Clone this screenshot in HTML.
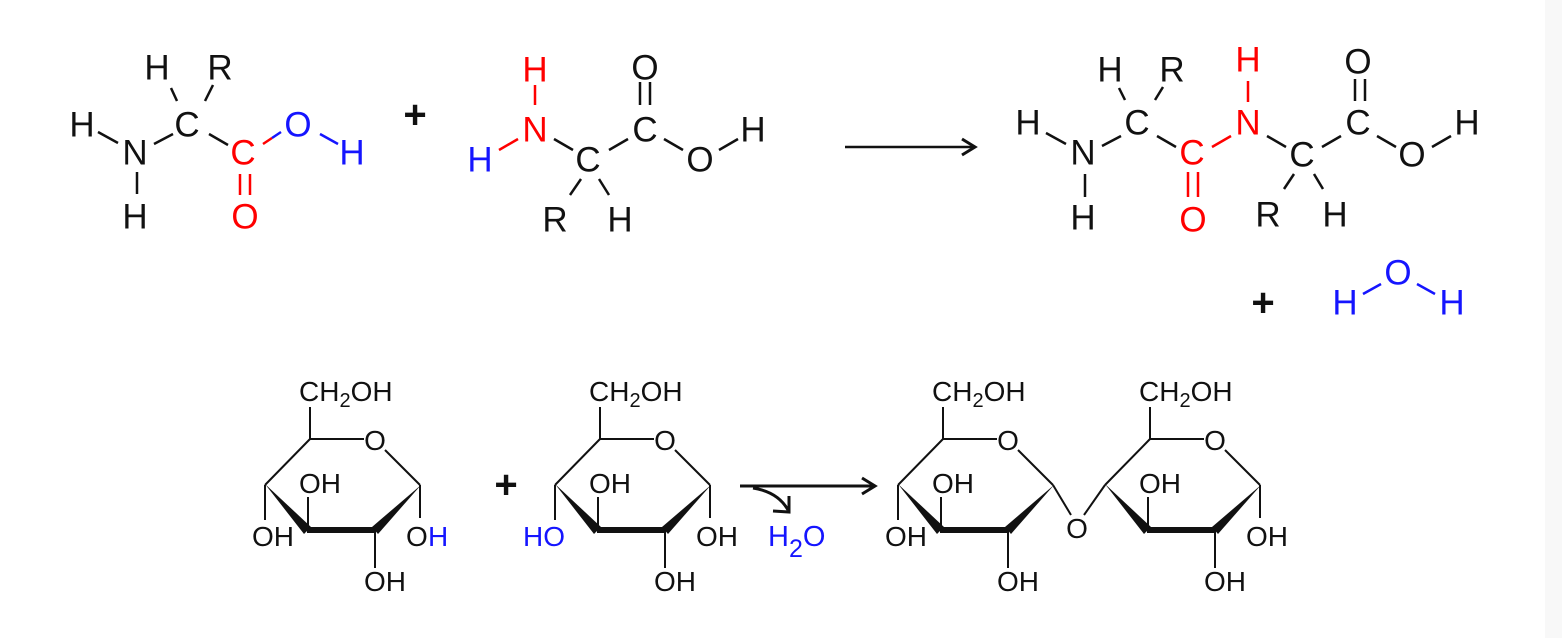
<!DOCTYPE html>
<html><head><meta charset="utf-8"><style>
html,body{margin:0;padding:0;background:#fff;}
svg{display:block;}
text{font-family:"Liberation Sans",sans-serif;}
</style></head><body>
<svg width="1562" height="638" viewBox="0 0 1562 638" xmlns="http://www.w3.org/2000/svg">
<rect width="1562" height="638" fill="#fff"/>
<rect x="1545" y="0" width="17" height="638" fill="#f8f8f8"/>
<defs>
<g id="ring">
  <g stroke="#111" stroke-width="2" fill="none">
    <line x1="310" y1="407" x2="310" y2="439"/>
    <line x1="310" y1="439" x2="364" y2="439"/>
    <line x1="385" y1="450" x2="420" y2="485"/>
    <line x1="310" y1="439" x2="265" y2="485"/>
    <line x1="308" y1="530" x2="308" y2="497"/>
    <line x1="375" y1="530" x2="375" y2="568"/>
  </g>
  <g fill="#111">
    <polygon points="265,484 304,534 311,527"/>
    <rect x="307" y="527" width="69" height="6"/>
    <polygon points="372,527 378,534 421,485"/>
  </g>
  <g font-size="28" fill="#111">
    <text x="299" y="401">CH<tspan font-size="20" dy="6">2</tspan><tspan dy="-6">OH</tspan></text>
    <text x="375" y="450" text-anchor="middle">O</text>
    <text x="299" y="493">OH</text>
    <text x="364" y="591">OH</text>
  </g>
</g>
</defs>

<!-- ===== Top reaction ===== -->
<g font-size="35" text-anchor="middle" dominant-baseline="central">
  <text x="157" y="68" fill="#111">H</text>
  <text x="220" y="68" fill="#111">R</text>
  <text x="82" y="125" fill="#111">H</text>
  <text x="187" y="125" fill="#111">C</text>
  <text x="135" y="153" fill="#111">N</text>
  <text x="243" y="153" fill="#f00">C</text>
  <text x="298" y="125" fill="#1515ff">O</text>
  <text x="352" y="153" fill="#1515ff">H</text>
  <text x="135" y="217" fill="#111">H</text>
  <text x="245" y="217" fill="#f00">O</text>
  <text x="415" y="115" fill="#111" font-weight="bold" font-size="40">+</text>
  <text x="535" y="70" fill="#f00">H</text>
  <text x="535" y="130" fill="#f00">N</text>
  <text x="480" y="160" fill="#1515ff">H</text>
  <text x="588" y="160" fill="#111">C</text>
  <text x="645" y="130" fill="#111">C</text>
  <text x="645" y="68" fill="#111">O</text>
  <text x="700" y="160" fill="#111">O</text>
  <text x="753" y="130" fill="#111">H</text>
  <text x="555" y="220" fill="#111">R</text>
  <text x="620" y="220" fill="#111">H</text>
  <text x="1110" y="70" fill="#111">H</text>
  <text x="1172" y="70" fill="#111">R</text>
  <text x="1248" y="60" fill="#f00">H</text>
  <text x="1358" y="62" fill="#111">O</text>
  <text x="1028" y="123" fill="#111">H</text>
  <text x="1137" y="123" fill="#111">C</text>
  <text x="1248" y="123" fill="#f00">N</text>
  <text x="1358" y="123" fill="#111">C</text>
  <text x="1467" y="123" fill="#111">H</text>
  <text x="1083" y="153" fill="#111">N</text>
  <text x="1192" y="153" fill="#f00">C</text>
  <text x="1302" y="155" fill="#111">C</text>
  <text x="1412" y="155" fill="#111">O</text>
  <text x="1083" y="218" fill="#111">H</text>
  <text x="1193" y="220" fill="#f00">O</text>
  <text x="1268" y="215" fill="#111">R</text>
  <text x="1335" y="215" fill="#111">H</text>
  <text x="1263" y="303" fill="#111" font-weight="bold" font-size="40">+</text>
  <text x="1398" y="273" fill="#1515ff">O</text>
  <text x="1345" y="303" fill="#1515ff">H</text>
  <text x="1452" y="303" fill="#1515ff">H</text>
</g>
<g stroke-width="2.5" fill="none">
  <g stroke="#111">
    <line x1="171" y1="88" x2="177" y2="101"/>
    <line x1="213" y1="85" x2="205" y2="101"/>
    <line x1="98" y1="132" x2="118" y2="143"/>
    <line x1="154" y1="144" x2="173" y2="134"/>
    <line x1="209" y1="134" x2="228" y2="145"/>
    <line x1="137" y1="172" x2="137" y2="194"/>
  </g>
  <line x1="263" y1="144" x2="272" y2="138" stroke="#f00"/>
  <line x1="272" y1="138" x2="281" y2="132" stroke="#1515ff"/>
  <line x1="320" y1="134" x2="338" y2="144" stroke="#1515ff"/>
  <line x1="240" y1="174" x2="240" y2="195" stroke="#f00"/>
  <line x1="250" y1="174" x2="250" y2="195" stroke="#f00"/>

  <line x1="535" y1="85" x2="535" y2="105" stroke="#f00"/>
  <line x1="518" y1="139" x2="499" y2="150" stroke="#f00"/>
  <g stroke="#111">
    <line x1="554" y1="139" x2="573" y2="150"/>
    <line x1="609" y1="150" x2="628" y2="139"/>
    <line x1="640" y1="82" x2="640" y2="105"/>
    <line x1="650" y1="82" x2="650" y2="105"/>
    <line x1="664" y1="139" x2="683" y2="150"/>
    <line x1="719" y1="150" x2="738" y2="139"/>
    <line x1="581" y1="179" x2="570" y2="195"/>
    <line x1="599" y1="179" x2="609" y2="195"/>
    <line x1="845" y1="147" x2="974" y2="147"/>
    <polyline points="962,139 975,147 962,155" stroke-width="3"/>

    <line x1="1119" y1="88" x2="1125" y2="100"/>
    <line x1="1163" y1="87" x2="1155" y2="100"/>
    <line x1="1046" y1="133" x2="1066" y2="144"/>
    <line x1="1102" y1="146" x2="1121" y2="136"/>
    <line x1="1157" y1="136" x2="1176" y2="147"/>
    <line x1="1267" y1="136" x2="1286" y2="147"/>
    <line x1="1322" y1="147" x2="1341" y2="136"/>
    <line x1="1355" y1="79" x2="1355" y2="101"/>
    <line x1="1365" y1="79" x2="1365" y2="101"/>
    <line x1="1377" y1="136" x2="1396" y2="147"/>
    <line x1="1432" y1="147" x2="1451" y2="136"/>
    <line x1="1085" y1="174" x2="1085" y2="197"/>
    <line x1="1294" y1="174" x2="1284" y2="189"/>
    <line x1="1314" y1="174" x2="1323" y2="189"/>
  </g>
  <g stroke="#f00">
    <line x1="1212" y1="147" x2="1231" y2="136"/>
    <line x1="1248" y1="81" x2="1248" y2="102"/>
    <line x1="1188" y1="172" x2="1188" y2="197"/>
    <line x1="1198" y1="172" x2="1198" y2="197"/>
  </g>
  <g stroke="#1515ff">
    <line x1="1363" y1="294" x2="1381" y2="284"/>
    <line x1="1417" y1="284" x2="1435" y2="294"/>
  </g>
</g>

<!-- ===== Bottom reaction ===== -->
<use href="#ring"/>
<g stroke="#111" stroke-width="2">
  <line x1="265" y1="485" x2="265" y2="520"/>
  <line x1="420" y1="485" x2="420" y2="518"/>
</g>
<g font-size="28">
  <text x="252" y="546" fill="#111">OH</text>
  <text x="406" y="546" fill="#111">O</text>
  <text x="428" y="546" fill="#1515ff">H</text>
</g>
<text x="506" y="498" font-size="40" text-anchor="middle" font-weight="bold" fill="#111">+</text>

<use href="#ring" transform="translate(290,0)"/>
<g stroke="#111" stroke-width="2">
  <line x1="555" y1="485" x2="555" y2="520"/>
  <line x1="710" y1="485" x2="710" y2="518"/>
</g>
<g font-size="28">
  <text x="565" y="546" text-anchor="end" fill="#1515ff">HO</text>
  <text x="696" y="546" fill="#111">OH</text>
</g>

<g stroke="#111" stroke-width="3" fill="none">
  <line x1="740" y1="486" x2="874" y2="486"/>
  <polyline points="862,478 875,486 862,494"/>
  <path d="M753,488 Q778,492 788,510"/>
  <polyline points="773,511 789,512 789,496"/>
</g>
<text x="768" y="546" font-size="29" fill="#1515ff">H<tspan font-size="25" dy="11">2</tspan><tspan dy="-11">O</tspan></text>

<use href="#ring" transform="translate(633,0)"/>
<use href="#ring" transform="translate(840,0)"/>
<g stroke="#111" stroke-width="2">
  <line x1="898" y1="485" x2="898" y2="520"/>
  <line x1="1053" y1="485" x2="1071" y2="515"/>
  <line x1="1084" y1="515" x2="1105" y2="485"/>
  <line x1="1260" y1="485" x2="1260" y2="518"/>
</g>
<g font-size="28" fill="#111">
  <text x="885" y="546">OH</text>
  <text x="1077" y="538" text-anchor="middle">O</text>
  <text x="1246" y="546">OH</text>
</g>
</svg>
</body></html>
